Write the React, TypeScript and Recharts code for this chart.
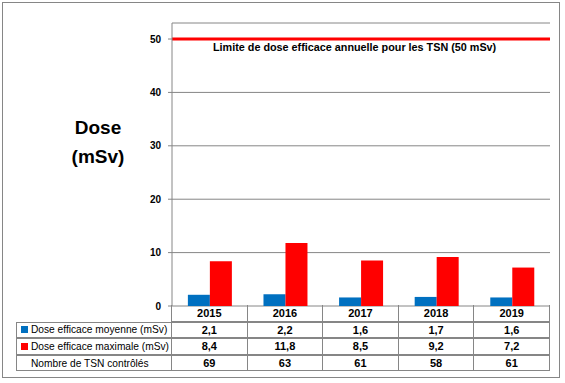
import React from 'react';
import { BarChart, Bar, XAxis, YAxis, CartesianGrid, ReferenceLine } from 'recharts';

const years = ['2015', '2016', '2017', '2018', '2019'];
const meanDose = [2.1, 2.2, 1.6, 1.7, 1.6];
const maxDose = [8.4, 11.8, 8.5, 9.2, 7.2];
const workersChecked = [69, 63, 61, 58, 61];
const yTicks = [0, 10, 20, 30, 40, 50];
const doseLimit = 50;

const BLUE = '#0070C0';
const RED = '#FF0000';
const GRID = '#868686';
const FONT = '"Liberation Sans", Arial, sans-serif';

const fmt = (v: number) => v.toFixed(1).replace('.', ',');

const data = years.map((year, i) => ({ year, mean: meanDose[i], max: maxDose[i] }));

// table geometry (matches the plot area: x 172 -> 550)
const LABEL_LEFT = 17;
const PLOT_LEFT = 172;
const COL_W = 75.6;
const ROW_H = 16.6;
const TABLE_TOP = 306;

const rows = [
  { label: 'Dose efficace moyenne (mSv)', color: BLUE, values: meanDose.map(fmt) },
  { label: 'Dose efficace maximale (mSv)', color: RED, values: maxDose.map(fmt) },
  { label: 'Nombre de TSN contrôlés', color: null, values: workersChecked.map(String) },
];

const cell = (left: number, top: number, width: number): React.CSSProperties => ({
  position: 'absolute',
  left,
  top,
  width,
  height: ROW_H,
  boxSizing: 'border-box',
  border: `1px solid ${GRID}`,
  marginLeft: -1,
  marginTop: -1,
  display: 'flex',
  alignItems: 'center',
  fontSize: 10.2,
  color: '#000',
});

const LimitLabel = (props: any) => {
  const { viewBox } = props;
  return (
    <text x={viewBox.x + 41} y={viewBox.y + 12} fontSize={10.8} fontWeight="bold" fill="#000" fontFamily={FONT}>
      Limite de dose efficace annuelle pour les TSN (50 mSv)
    </text>
  );
};

export default function App() {
  return (
    <div style={{ position: 'absolute', left: 0, top: 0, width: 565, height: 383, background: '#fff', fontFamily: FONT }}>
      <div style={{ position: 'absolute', left: 2, top: 2, width: 558, height: 376, boxSizing: 'border-box', border: `1px solid ${GRID}` }} />

      <div style={{ position: 'absolute', left: 48, top: 113, width: 100, textAlign: 'center', fontSize: 19, fontWeight: 'bold', lineHeight: '29px', color: '#000' }}>
        Dose
        <br />
        (mSv)
      </div>

      <BarChart width={565} height={383} data={data} margin={{ top: 23, right: 15, bottom: 77, left: 132 }} barCategoryGap="21%" barGap={0}>
        <CartesianGrid horizontal vertical={false} stroke={GRID} />
        <XAxis dataKey="year" tick={false} tickLine={false} height={0} axisLine={{ stroke: GRID }} />
        <YAxis
          width={40}
          domain={[0, 53]}
          ticks={yTicks}
          tickSize={4}
          tickMargin={7}
          axisLine={{ stroke: GRID }}
          tickLine={{ stroke: GRID }}
          tick={{ fontSize: 10, fontWeight: 'bold', fill: '#000', fontFamily: FONT }}
        />
        <Bar dataKey="mean" fill={BLUE} isAnimationActive={false} />
        <Bar dataKey="max" fill={RED} isAnimationActive={false} />
        <ReferenceLine y={doseLimit} stroke={RED} strokeWidth={3} label={<LimitLabel />} />
      </BarChart>

      {years.map((y, i) => (
        <div key={y} style={{ ...cell(PLOT_LEFT + i * COL_W, TABLE_TOP, COL_W + 1), borderTop: 'none', justifyContent: 'center', fontWeight: 'bold', fontSize: 11 }}>
          {y}
        </div>
      ))}
      {rows.map((r, ri) => {
        const top = TABLE_TOP + ROW_H * (ri + 1);
        return (
          <React.Fragment key={r.label}>
            <div style={{ ...cell(LABEL_LEFT, top, PLOT_LEFT - LABEL_LEFT + 1), paddingLeft: 4 }}>
              <span style={{ display: 'inline-block', width: 7, height: 7, background: r.color || 'transparent', marginRight: 3, flexShrink: 0 }} />
              <span style={{ whiteSpace: 'nowrap' }}>{r.label}</span>
            </div>
            {r.values.map((v, i) => (
              <div key={i} style={{ ...cell(PLOT_LEFT + i * COL_W, top, COL_W + 1), justifyContent: 'center', fontWeight: 'bold', fontSize: 11 }}>
                {v}
              </div>
            ))}
          </React.Fragment>
        );
      })}
    </div>
  );
}
